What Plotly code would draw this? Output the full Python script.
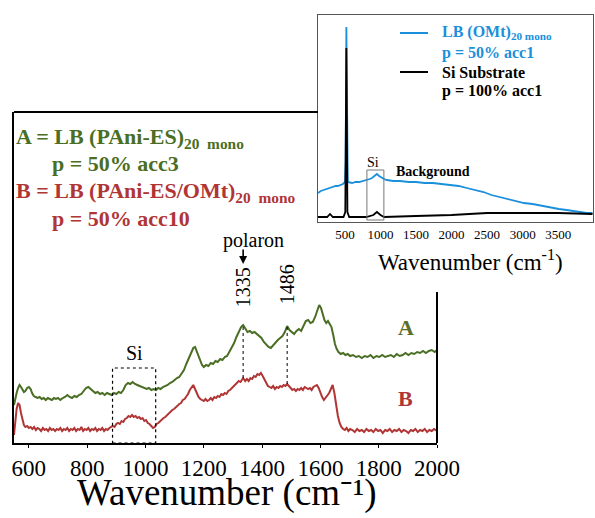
import plotly.graph_objects as go

# ---- Raman spectra, main panel: (wavenumber cm-1, intensity a.u.) ----
spectrum_a = [
    (549, 38), (553, 44), (558, 50), (563, 55), (568, 58), (573, 56), (578, 53), (583, 51), (588, 52), (594, 55),
    (600, 56), (606, 54), (611, 50), (617, 47), (623, 46), (630, 45), (637, 46), (644, 44), (651, 45), (658, 43),
    (665, 45), (672, 44), (679, 43), (686, 45), (693, 44), (700, 45), (708, 43), (716, 45), (724, 46), (732, 48),
    (740, 46), (748, 45), (756, 47), (764, 46), (772, 48), (780, 49), (788, 52), (796, 55), (804, 56), (812, 54),
    (820, 52), (828, 50), (836, 51), (844, 49), (852, 50), (860, 48), (868, 50), (876, 49), (884, 48), (892, 50),
    (900, 49), (908, 51), (916, 50), (924, 53), (932, 58), (940, 60), (948, 59), (956, 61), (964, 59), (972, 58),
    (980, 57), (988, 56), (996, 55), (1004, 54), (1012, 55), (1020, 53), (1028, 54), (1036, 53), (1044, 55),
    (1052, 54), (1060, 56), (1068, 57), (1076, 58), (1084, 60), (1092, 61), (1100, 63), (1108, 65), (1116, 66),
    (1124, 69), (1132, 73), (1140, 79), (1148, 85), (1156, 91), (1164, 95), (1170, 96), (1176, 91), (1182, 86),
    (1188, 81), (1194, 78), (1200, 76), (1208, 78), (1216, 77), (1224, 80), (1232, 79), (1240, 82), (1248, 81),
    (1256, 84), (1264, 83), (1272, 86), (1280, 87), (1288, 91), (1296, 95), (1304, 100), (1312, 106), (1320, 112),
    (1328, 116), (1335, 118), (1342, 114), (1350, 111), (1358, 112), (1366, 110), (1374, 111), (1382, 109),
    (1390, 107), (1398, 105), (1406, 101), (1414, 98), (1422, 96), (1430, 95), (1438, 98), (1446, 101), (1454, 103),
    (1462, 105), (1470, 107), (1478, 111), (1486, 117), (1494, 113), (1502, 111), (1510, 109), (1518, 112),
    (1526, 114), (1534, 112), (1542, 117), (1550, 122), (1558, 123), (1566, 120), (1574, 121), (1582, 126),
    (1590, 133), (1596, 138), (1602, 135), (1608, 128), (1614, 123), (1620, 120), (1626, 122), (1632, 119),
    (1638, 116), (1644, 108), (1650, 99), (1656, 94), (1662, 91), (1670, 89), (1678, 90), (1686, 88), (1694, 89),
    (1702, 87), (1712, 88), (1722, 86), (1732, 87), (1742, 85), (1752, 87), (1762, 86), (1772, 88), (1782, 85),
    (1792, 87), (1802, 86), (1812, 88), (1822, 86), (1832, 87), (1842, 88), (1852, 86), (1862, 89), (1872, 87),
    (1882, 88), (1892, 90), (1902, 88), (1912, 90), (1922, 89), (1932, 91), (1942, 90), (1952, 92), (1962, 90),
    (1972, 92), (1982, 93), (1992, 91), (2000, 93),
]

spectrum_b = [
    (549, 8), (553, 22), (558, 34), (563, 40), (568, 38), (573, 30), (578, 22), (583, 18), (588, 16), (594, 17),
    (600, 15), (606, 16), (612, 14), (618, 16), (624, 13), (630, 15), (636, 14), (642, 12), (648, 15), (654, 13),
    (660, 14), (666, 12), (672, 15), (678, 13), (684, 14), (690, 12), (696, 14), (702, 13), (708, 15), (714, 12),
    (720, 14), (726, 13), (732, 15), (738, 12), (744, 14), (750, 13), (756, 15), (762, 12), (768, 14), (774, 13),
    (780, 16), (786, 12), (792, 14), (798, 13), (804, 15), (810, 12), (816, 14), (822, 13), (828, 15), (834, 12),
    (840, 14), (846, 13), (852, 15), (858, 12), (864, 14), (870, 13), (876, 15), (882, 16), (888, 17), (894, 16),
    (900, 19), (906, 20), (912, 19), (918, 22), (924, 21), (930, 24), (936, 25), (942, 27), (948, 26), (954, 28),
    (960, 26), (966, 27), (972, 25), (978, 26), (984, 24), (990, 25), (996, 22), (1002, 23), (1008, 20), (1014, 19),
    (1020, 17), (1026, 15), (1032, 16), (1038, 19), (1044, 20), (1050, 22), (1056, 23), (1062, 25), (1068, 26),
    (1074, 28), (1080, 29), (1086, 31), (1092, 33), (1098, 34), (1104, 36), (1110, 37), (1116, 39), (1122, 40),
    (1128, 43), (1134, 44), (1140, 46), (1146, 49), (1152, 53), (1158, 56), (1164, 58), (1170, 54), (1176, 49),
    (1182, 46), (1188, 44), (1194, 43), (1200, 42), (1206, 44), (1212, 42), (1218, 43), (1224, 45), (1230, 43),
    (1236, 46), (1242, 45), (1248, 47), (1254, 46), (1260, 49), (1266, 48), (1272, 50), (1278, 49), (1284, 52),
    (1290, 53), (1296, 55), (1302, 56), (1308, 58), (1314, 60), (1320, 62), (1326, 61), (1335, 65), (1342, 62),
    (1348, 64), (1354, 62), (1360, 65), (1366, 64), (1372, 67), (1378, 66), (1384, 69), (1390, 68), (1396, 70),
    (1402, 67), (1408, 64), (1414, 60), (1420, 57), (1426, 56), (1432, 55), (1438, 57), (1444, 54), (1450, 56),
    (1456, 55), (1462, 57), (1468, 56), (1474, 58), (1480, 57), (1486, 59), (1492, 57), (1498, 55), (1504, 53),
    (1510, 54), (1516, 52), (1522, 54), (1528, 53), (1534, 55), (1540, 53), (1546, 56), (1552, 55), (1558, 54),
    (1564, 55), (1570, 53), (1576, 56), (1582, 57), (1588, 58), (1594, 55), (1600, 50), (1606, 46), (1612, 43),
    (1618, 45), (1624, 47), (1630, 50), (1636, 54), (1642, 58), (1648, 50), (1654, 38), (1660, 27), (1666, 20),
    (1672, 16), (1678, 14), (1684, 13), (1690, 15), (1696, 12), (1702, 14), (1710, 13), (1718, 11), (1726, 14),
    (1734, 12), (1742, 13), (1750, 11), (1758, 14), (1766, 12), (1774, 13), (1782, 11), (1790, 14), (1798, 12),
    (1806, 13), (1814, 10), (1822, 13), (1830, 12), (1838, 14), (1846, 11), (1854, 13), (1862, 12), (1870, 14),
    (1878, 11), (1886, 13), (1894, 12), (1902, 10), (1910, 13), (1918, 12), (1926, 14), (1934, 11), (1942, 13),
    (1950, 12), (1958, 14), (1966, 11), (1974, 13), (1982, 12), (1990, 14), (2000, 12),
]

# marked band positions
peak_marks = [1335, 1486]
si_band = [887, 1035]
main_ticks = [600, 800, 1000, 1200, 1400, 1600, 1800, 2000]

# ---- inset: full-range spectra ----
wn_omt = [121, 160, 200, 240, 280, 332, 370, 400, 440, 472, 500, 510, 520, 530, 540, 600, 650, 700, 760, 809,
          850, 880, 920, 950, 980, 1000, 1050, 1090, 1180, 1273, 1400, 1500, 1620, 1736, 1850, 2000, 2100,
          2214, 2330, 2450, 2560, 2677, 2790, 2900, 3020, 3141, 3270, 3400, 3510, 3618, 3720, 3800, 3900, 3983]
int_omt = [29, 31, 32, 33, 34, 35, 36, 36, 37, 38, 40, 60, 195, 60, 40, 39, 40, 40, 41, 42,
           43, 44, 46, 48, 46, 45, 43, 42, 41, 41, 40, 40, 39, 39, 38, 37, 36,
           34, 32, 30, 27, 25, 23, 21, 19, 18, 16, 14, 13, 12, 11, 10, 9, 9]
wn_si = [121, 250, 290, 330, 480, 505, 520, 535, 560, 800, 900, 950, 1000, 1050, 1500, 2000, 2500, 3000,
         3500, 3983]
int_si = [5, 5, 8, 5, 5, 10, 174, 10, 5, 5, 7, 10, 7, 5, 6, 7, 9, 9, 9, 8]
inset_si_band = [809, 1048]
inset_ticks = [500, 1000, 1500, 2000, 2500, 3000, 3500]

wn_a = [p[0] for p in spectrum_a]
int_a = [p[1] for p in spectrum_a]
wn_b = [p[0] for p in spectrum_b]
int_b = [p[1] for p in spectrum_b]

W, H = 595, 518
SERIF = "Liberation Serif, Times New Roman, serif"
GREEN = "#4a6e23"
RED = "#b03535"
BLUE = "#1a8fdc"


def px(x):
    return x / W


def py(y):
    return (H - y) / H


fig = go.Figure()

fig.add_trace(go.Scatter(x=wn_a, y=int_a, mode="lines", line=dict(color=GREEN, width=2),
                         xaxis="x", yaxis="y", showlegend=False))
fig.add_trace(go.Scatter(x=wn_b, y=int_b, mode="lines", line=dict(color=RED, width=2),
                         xaxis="x", yaxis="y", showlegend=False))
fig.add_trace(go.Scatter(x=wn_omt, y=int_omt, mode="lines", line=dict(color=BLUE, width=1.8),
                         xaxis="x2", yaxis="y2", showlegend=False))
fig.add_trace(go.Scatter(x=wn_si, y=int_si, mode="lines", line=dict(color="black", width=1.8),
                         xaxis="x2", yaxis="y2", showlegend=False))

shapes = []
# dotted markers joining the two spectra at the labelled bands
for p in peak_marks:
    ya = int_a[wn_a.index(p)]
    yb = int_b[wn_b.index(p)]
    shapes.append(dict(type="line", xref="x", yref="y", x0=p, x1=p, y0=yb, y1=ya,
                       line=dict(color="black", width=1, dash="dot")))
# Si band box in main panel
shapes.append(dict(type="rect", xref="x", yref="y", x0=si_band[0], x1=si_band[1], y0=0, y1=75,
                   line=dict(color="black", width=1.2, dash="dot")))
# Si band box in inset
shapes.append(dict(type="rect", xref="x2", yref="y2", x0=inset_si_band[0], x1=inset_si_band[1], y0=2, y1=52,
                   line=dict(color="#777777", width=1)))
# main frame: top and right edges (partly hidden behind the inset)
shapes.append(dict(type="line", xref="paper", yref="paper", x0=px(14), x1=px(318), y0=py(112), y1=py(112),
                   line=dict(color="black", width=2)))
shapes.append(dict(type="line", xref="paper", yref="paper", x0=px(437), x1=px(437), y0=py(292), y1=py(443),
                   line=dict(color="black", width=2)))
# inset legend line samples
shapes.append(dict(type="line", xref="paper", yref="paper", x0=px(400), x1=px(428), y0=py(33), y1=py(33),
                   line=dict(color=BLUE, width=2)))
shapes.append(dict(type="line", xref="paper", yref="paper", x0=px(400), x1=px(428), y0=py(72), y1=py(72),
                   line=dict(color="black", width=2)))

ann = []


def text(x, y, s, size, color="black", bold=False, xanchor="left", xref="paper", yref="paper", angle=0):
    if bold:
        s = "<b>" + s + "</b>"
    ann.append(dict(x=x, y=y, xref=xref, yref=yref, text=s, showarrow=False, xanchor=xanchor,
                    yanchor="middle", textangle=angle, font=dict(family=SERIF, size=size, color=color)))


# main legend block
text(px(14), py(138), "A = LB (PAni-ES)<sub>20  mono</sub>", 22, GREEN, True)
text(px(50), py(163), "p = 50% acc3", 22, GREEN, True)
text(px(14), py(192), "B = LB (PAni-ES/OMt)<sub>20  mono</sub>", 22, RED, True)
text(px(50), py(218), "p = 50% acc10", 22, RED, True)

# curve tags
text(1893, 116, "A", 22, "#5d6e2a", True, "center", "x", "y")
text(1893, 45, "B", 22, RED, True, "center", "x", "y")

# band labels
text(961, 90, "Si", 20, "black", False, "center", "x", "y")
text(1335, 156, "1335", 20, "black", False, "center", "x", "y", -90)
text(1486, 159, "1486", 20, "black", False, "center", "x", "y", -90)
text(1372, 203, "polaron", 20, "black", False, "center", "x", "y")
ann.append(dict(x=1335, y=179, ax=1335, ay=195, xref="x", yref="y", axref="x", ayref="y",
                text="", showarrow=True, arrowhead=2, arrowsize=1, arrowwidth=1.6, arrowcolor="black"))

# main axis title, anchored at its bottom just under the tick labels
ann.append(dict(x=px(227), y=py(516), xref="paper", yref="paper", text="Wavenumber (cm⁻¹)",
                showarrow=False, xanchor="center", yanchor="bottom",
                font=dict(family=SERIF, size=37, color="black")))

# inset legend and labels
text(px(440), py(33), "LB (OMt)<sub>20 mono</sub>", 16, BLUE, True)
text(px(440), py(53), "p = 50% acc1", 16, BLUE, True)
text(px(440), py(72), "Si Substrate", 16, "black", True)
text(px(440), py(91), "p = 100% acc1", 16, "black", True)
text(893, 60, "Si", 14, "black", False, "center", "x2", "y2")
text(1736, 51, "Background", 14, "black", True, "center", "x2", "y2")
text(px(470), py(260), "Wavenumber (cm<sup>-1</sup>)", 23, "black", False, "center")

fig.update_layout(
    width=W, height=H,
    margin=dict(l=0, r=0, t=0, b=0),
    paper_bgcolor="white", plot_bgcolor="white",
    showlegend=False,
    shapes=shapes,
    annotations=ann,
    xaxis=dict(domain=[px(14), px(437)], range=[549, 2000], anchor="y", showgrid=False, zeroline=False,
               showline=True, linecolor="black", linewidth=2, ticks="outside", ticklen=3,
               tickcolor="black", tickvals=main_ticks, ticktext=[str(t) for t in main_ticks],
               tickfont=dict(family=SERIF, size=23, color="black"), automargin=False),
    yaxis=dict(domain=[py(443), py(112)], range=[0, 331], anchor="x", showgrid=False, zeroline=False,
               showline=True, linecolor="black", linewidth=2, showticklabels=False, ticks="",
               automargin=False),
    xaxis2=dict(domain=[px(318), px(593)], range=[121, 3990], anchor="y2", showgrid=False, zeroline=False,
                showline=True, mirror=True, linecolor="#555555", linewidth=1, ticks="",
                tickvals=inset_ticks, ticktext=[str(t) for t in inset_ticks],
                tickfont=dict(family=SERIF, size=13, color="black"), automargin=False),
    yaxis2=dict(domain=[py(222), py(15)], range=[0, 207], anchor="x2", showgrid=False, zeroline=False,
                showline=True, mirror=True, linecolor="#555555", linewidth=1, showticklabels=False,
                ticks="", automargin=False),
)

fig.write_html("out.html")
